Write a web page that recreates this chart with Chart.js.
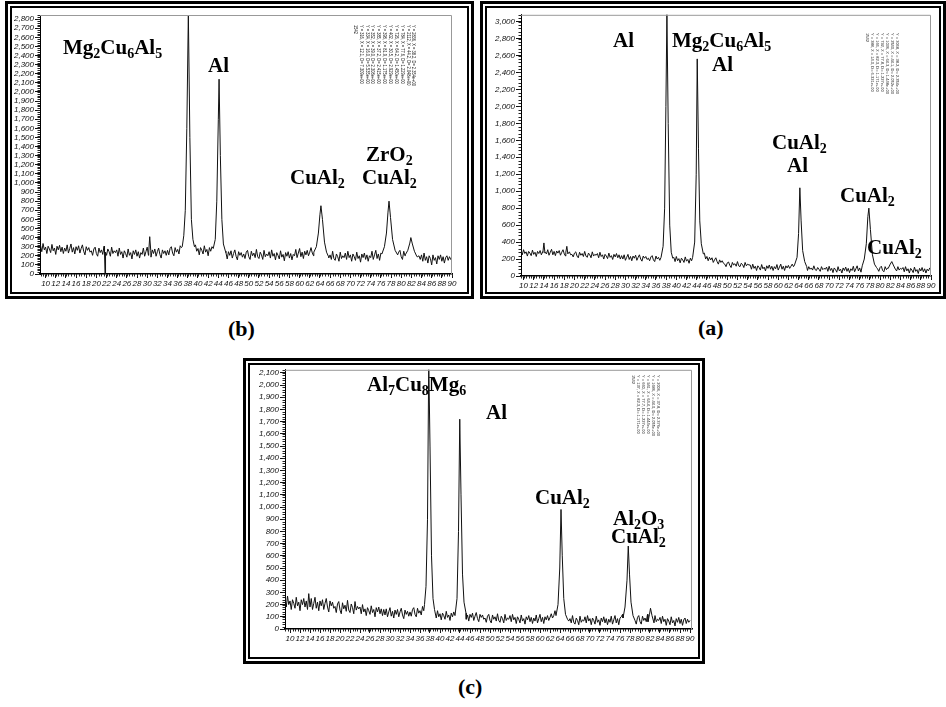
<!DOCTYPE html>
<html>
<head>
<meta charset="utf-8">
<title>XRD patterns (a) (b) (c)</title>
<script src="https://cdn.jsdelivr.net/npm/chart.js@4.4.1/dist/chart.umd.min.js"></script>
<style>
    body { margin: 0; background: #fff; }
    #page { position: relative; width: 946px; height: 707px; overflow: hidden; }
    .frame { position: absolute; box-sizing: border-box; border: 3px solid #000; }
    .frame .inner { position: absolute; left: 2px; top: 2px; right: 2px; bottom: 2px; border: 2px solid #000; }
    canvas { position: absolute; }
    .lbl { position: absolute; font-family: 'Liberation Serif', 'Times New Roman', serif; font-weight: bold;
           font-size: 21px; line-height: 21px; white-space: nowrap; color: #000; }
    .lbl sub { font-size: 14px; vertical-align: -4px; line-height: 0; }
    .cap { position: absolute; font-family: 'Liberation Serif', 'Times New Roman', serif; font-weight: bold;
           font-size: 22px; line-height: 22px; }
    .plist { position: absolute; left: 0; top: 0; transform-origin: 0 0; font-family: 'Liberation Sans', sans-serif;
             font-size: 8px; line-height: 9px; white-space: pre; color: #222; }
</style>
</head>
<body>
<div id="page">
    <div class="frame" style="left:5px;top:1px;width:469px;height:298px"><div class="inner"></div></div>
    <div class="frame" style="left:480px;top:1px;width:466px;height:298px"><div class="inner"></div></div>
    <div class="frame" style="left:243px;top:358px;width:462px;height:306px"><div class="inner"></div></div>

    <canvas id="chart-b" width="455" height="286" style="left:12px;top:9px"></canvas>
    <canvas id="chart-a" width="452" height="286" style="left:488px;top:9px"></canvas>
    <canvas id="chart-c" width="446" height="294" style="left:251px;top:364px"></canvas>

    <!-- panel (b) phase labels -->
    <div class="lbl" style="left:63px;top:37px">Mg<sub>2</sub>Cu<sub>6</sub>Al<sub>5</sub></div>
    <div class="lbl" style="left:208px;top:55px">Al</div>
    <div class="lbl" style="left:290px;top:167px">CuAl<sub>2</sub></div>
    <div class="lbl" style="left:366px;top:144px">ZrO<sub>2</sub></div>
    <div class="lbl" style="left:362px;top:167px">CuAl<sub>2</sub></div>

    <!-- panel (a) phase labels -->
    <div class="lbl" style="left:613px;top:30px">Al</div>
    <div class="lbl" style="left:672px;top:30px">Mg<sub>2</sub>Cu<sub>6</sub>Al<sub>5</sub></div>
    <div class="lbl" style="left:712px;top:54px">Al</div>
    <div class="lbl" style="left:772px;top:132px">CuAl<sub>2</sub></div>
    <div class="lbl" style="left:787px;top:155px">Al</div>
    <div class="lbl" style="left:840px;top:185px">CuAl<sub>2</sub></div>
    <div class="lbl" style="left:867px;top:237px">CuAl<sub>2</sub></div>

    <!-- panel (c) phase labels -->
    <div class="lbl" style="left:367px;top:374px">Al<sub>7</sub>Cu<sub>8</sub>Mg<sub>6</sub></div>
    <div class="lbl" style="left:486px;top:402px">Al</div>
    <div class="lbl" style="left:535px;top:487px">CuAl<sub>2</sub></div>
    <div class="lbl" style="left:613px;top:508px">Al<sub>2</sub>O<sub>3</sub></div>
    <div class="lbl" style="left:611px;top:526px">CuAl<sub>2</sub></div>

    <div class="cap" style="left:228px;top:318px">(b)</div>
    <div class="cap" style="left:698px;top:317px">(a)</div>
    <div class="cap" style="left:458px;top:676px">(c)</div>

    <div class="plist" id="plist-b"></div>
    <div class="plist" id="plist-a"></div>
    <div class="plist" id="plist-c"></div>
</div>

<script>
// --- Shared axis ticks (2-theta, degrees) ---
const xTicks = [10, 12, 14, 16, 18, 20, 22, 24, 26, 28, 30, 32, 34, 36, 38, 40, 42, 44, 46, 48, 50,
                52, 54, 56, 58, 60, 62, 64, 66, 68, 70, 72, 74, 76, 78, 80, 82, 84, 86, 88, 90];
const STEP = 0.25;   // scan step of the background arrays

// --- Panel (b) ---
const yTicksB = [0, 100, 200, 300, 400, 500, 600, 700, 800, 900, 1000, 1100, 1200, 1300, 1400, 1500,
                 1600, 1700, 1800, 1900, 2000, 2100, 2200, 2300, 2400, 2500, 2600, 2700, 2800];
// background counts from 9.0 deg, one row = 5 deg
const baseB = [
    315, 245, 335, 265, 295, 225, 305, 275, 235, 325, 255, 285, 215, 305, 265, 315, 245, 295, 225, 285,
    250, 320, 230, 280, 330, 240, 290, 220, 300, 260, 310, 230, 280, 320, 250, 210, 300, 260, 290, 240,
    255, 205, 275, 295, 225, 195, 285, 235, 265, 215, 305, 225, 205, 275, 245, 195, 295, 225, 255, 235,
    265, 195, 285, 215, 245, 175, 255, 225, 185, 275, 205, 235, 165, 255, 215, 265, 195, 245, 175, 235,
    215, 285, 195, 245, 295, 205, 255, 185, 265, 225, 275, 195, 245, 285, 215, 175, 265, 225, 255, 205,
    260, 210, 280, 300, 230, 200, 290, 240, 270, 220, 310, 290, 330, 360, 380, 420, 400, 380, 360, 340,
    300, 230, 320, 250, 280, 210, 290, 260, 220, 310, 240, 270, 200, 290, 250, 300, 230, 280, 250, 300,
    195, 265, 175, 225, 275, 185, 235, 165, 245, 205, 255, 175, 225, 265, 195, 155, 245, 205, 235, 185,
    220, 170, 240, 260, 190, 160, 250, 200, 230, 180, 270, 190, 170, 240, 210, 160, 260, 190, 220, 200,
    245, 175, 265, 195, 225, 155, 235, 205, 165, 255, 185, 215, 145, 235, 195, 245, 175, 225, 155, 215,
    200, 270, 180, 230, 280, 190, 240, 170, 250, 210, 260, 200, 240, 290, 230, 200, 290, 260, 290, 300,
    200, 150, 170, 190, 170, 140, 230, 180, 210, 160, 250, 170, 150, 220, 190, 140, 240, 170, 200, 180,
    230, 160, 250, 180, 210, 140, 220, 190, 150, 240, 170, 200, 130, 220, 180, 230, 160, 210, 140, 200,
    180, 250, 160, 210, 260, 170, 220, 150, 230, 190, 240, 160, 210, 250, 180, 140, 230, 190, 220, 170,
    220, 170, 240, 260, 190, 160, 250, 200, 230, 180, 270, 190, 170, 240, 210, 160, 260, 190, 200, 160,
    210, 140, 230, 150, 190, 120, 200, 170, 100, 210, 150, 180, 110, 200, 160, 210, 140, 190, 120, 180,
    200, 150, 190, 160, 180
];
const peaksB = [
    [[21.6, 230], [21.7, 0], [21.8, 240]],
    [[30.3, 240], [30.5, 410], [30.7, 260]],
    [[36.9, 300], [37.2, 420], [37.5, 700], [37.8, 1600], [38.1, 2860], [38.4, 1500], [38.7, 600], [39.0, 380], [39.3, 300]],
    [[43.0, 280], [43.4, 380], [43.7, 800], [44.0, 1700], [44.15, 2140], [44.4, 1300], [44.7, 600], [45.0, 330], [45.4, 250]],
    [[62.8, 240], [63.3, 300], [63.7, 450], [64.0, 650], [64.2, 750], [64.5, 600], [64.9, 350], [65.3, 240], [65.7, 190]],
    [[76.2, 220], [76.7, 300], [77.1, 450], [77.4, 680], [77.6, 800], [77.9, 620], [78.3, 380], [78.8, 260], [79.3, 210]],
    [[80.8, 210], [81.3, 260], [81.7, 340], [81.9, 400], [82.2, 330], [82.6, 250], [83.1, 190]]
];
const listB = [
    'Y = 2836, X = 38.2, D= 2.354e+00',
    'Y = 2112, X = 44.2, D= 2.048e+00',
    'Y = 784, X = 77.6, D= 1.229e+00',
    'Y = 726, X = 64.2, D= 1.450e+00',
    'Y = 402, X = 30.5, D= 2.929e+00',
    'Y = 398, X = 81.9, D= 1.175e+00',
    'Y = 385, X = 37.2, D= 2.415e+00',
    'Y = 352, X = 39.0, D= 2.308e+00',
    'Y = 334, X = 16.0, D= 5.535e+00',
    'Y = 316, X = 12.1, D= 7.309e+00',
    '1542'
];

// --- Panel (a) ---
const yTicksA = [0, 200, 400, 600, 800, 1000, 1200, 1400, 1600, 1800, 2000, 2200, 2400, 2600, 2800, 3000];
// background counts from 9.5 deg, one row = 5 deg
const baseA = [
    300, 250, 310, 265, 285, 235, 290, 270, 240, 305, 255, 280, 230, 290, 265, 300, 250, 285, 235, 280,
    260, 310, 245, 280, 315, 250, 290, 240, 295, 270, 300, 245, 280, 310, 260, 235, 295, 265, 285, 250,
    255, 225, 270, 285, 235, 215, 280, 245, 265, 230, 290, 235, 220, 270, 250, 215, 285, 235, 255, 245,
    265, 215, 280, 230, 250, 200, 255, 235, 205, 270, 220, 240, 195, 255, 225, 265, 215, 250, 200, 240,
    200, 250, 185, 220, 255, 195, 230, 180, 235, 210, 245, 185, 220, 250, 200, 175, 235, 210, 230, 195,
    210, 180, 225, 240, 190, 170, 235, 200, 220, 185, 250, 195, 180, 225, 205, 170, 245, 190, 210, 200,
    220, 170, 230, 180, 205, 155, 210, 190, 160, 225, 175, 195, 150, 210, 180, 230, 200, 240, 220, 250,
    280, 300, 240, 250, 270, 200, 230, 180, 220, 190, 215, 160, 190, 215, 170, 140, 190, 160, 180, 150,
    140, 110, 155, 165, 125, 100, 160, 130, 145, 115, 170, 120, 110, 150, 135, 100, 160, 120, 140, 130,
    130, 80, 140, 90, 115, 65, 120, 100, 70, 135, 85, 105, 60, 120, 90, 130, 80, 115, 65, 110,
    85, 135, 70, 105, 140, 80, 115, 65, 120, 95, 125, 90, 115, 140, 110, 130, 170, 200, 300, 500,
    500, 300, 160, 120, 100, 65, 110, 80, 95, 70, 120, 75, 65, 100, 80, 55, 110, 75, 90, 80,
    105, 55, 115, 65, 90, 40, 95, 75, 45, 110, 60, 80, 35, 95, 65, 105, 55, 90, 40, 85,
    65, 115, 50, 85, 120, 60, 95, 45, 100, 110, 130, 150, 200, 300, 500, 700, 500, 300, 150, 110,
    85, 55, 100, 115, 65, 50, 110, 75, 95, 100, 130, 160, 150, 120, 90, 60, 110, 70, 90, 80,
    100, 50, 110, 60, 85, 35, 90, 70, 40, 105, 55, 75, 30, 90, 60, 100, 50, 85, 35, 80,
    60, 95, 65
];
const peaksA = [
    [[13.8, 280], [14.0, 390], [14.2, 270]],
    [[18.3, 280], [18.5, 350], [18.7, 260]],
    [[37.0, 220], [37.4, 350], [37.7, 800], [37.95, 2000], [38.15, 3100], [38.4, 1800], [38.7, 600], [39.0, 280], [39.3, 210]],
    [[43.2, 220], [43.6, 400], [43.9, 1200], [44.1, 2560], [44.35, 1500], [44.6, 650], [44.9, 380], [45.3, 260]],
    [[63.2, 130], [63.7, 220], [64.0, 500], [64.25, 1040], [64.5, 650], [64.8, 300], [65.2, 170], [65.6, 110]],
    [[76.5, 120], [76.9, 200], [77.3, 380], [77.6, 700], [77.8, 800], [78.1, 550], [78.5, 250], [78.9, 140], [79.3, 100]],
    [[81.6, 90], [82.0, 140], [82.3, 170], [82.6, 130], [83.0, 80]]
];
const listA = [
    'Y = 3068, X = 38.2, D= 2.354e+00',
    'Y = 2540, X = 44.1, D= 2.052e+00',
    'Y = 1036, X = 64.3, D= 1.448e+00',
    'Y = 792, X = 77.8, D= 1.227e+00',
    'Y = 166, X = 82.3, D= 1.171e+00',
    'Y = 388, X = 14.0, D= 6.321e+00',
    '1542'
];

// --- Panel (c) ---
const yTicksC = [0, 100, 200, 300, 400, 500, 600, 700, 800, 900, 1000, 1100, 1200, 1300, 1400, 1500,
                 1600, 1700, 1800, 1900, 2000, 2100];
// background counts from 9.0 deg, one row = 5 deg
const baseC = [
    250, 180, 270, 200, 230, 160, 240, 210, 170, 260, 190, 220, 150, 240, 200, 250, 180, 230, 160, 290,
    180, 250, 160, 210, 260, 170, 220, 150, 230, 190, 240, 160, 210, 250, 180, 140, 230, 190, 220, 170,
    185, 135, 205, 225, 155, 125, 215, 165, 195, 145, 235, 155, 135, 205, 175, 125, 225, 155, 185, 165,
    180, 125, 200, 140, 165, 110, 175, 150, 120, 190, 135, 160, 100, 175, 140, 180, 125, 165, 110, 160,
    115, 165, 100, 140, 175, 105, 145, 90, 155, 120, 160, 100, 140, 170, 115, 85, 155, 120, 145, 105,
    140, 105, 160, 175, 120, 100, 170, 130, 150, 115, 185, 150, 170, 200, 180, 220, 300, 250, 200, 170,
    140, 90, 150, 100, 125, 75, 130, 110, 80, 145, 95, 115, 70, 130, 100, 140, 90, 125, 100, 130,
    90, 135, 75, 105, 140, 80, 115, 65, 120, 95, 130, 70, 105, 135, 85, 60, 120, 95, 115, 80,
    90, 55, 105, 120, 70, 50, 115, 80, 100, 65, 125, 70, 55, 105, 85, 50, 120, 70, 90, 80,
    110, 60, 120, 75, 95, 45, 100, 80, 50, 115, 65, 85, 40, 100, 75, 110, 60, 95, 45, 90,
    65, 115, 50, 85, 120, 60, 95, 45, 100, 75, 110, 70, 95, 125, 90, 110, 150, 200, 300, 500,
    500, 300, 160, 110, 90, 60, 100, 65, 85, 50, 110, 55, 40, 90, 70, 35, 105, 55, 75, 65,
    100, 50, 110, 65, 85, 35, 90, 70, 40, 105, 55, 75, 30, 90, 60, 100, 50, 85, 35, 80,
    55, 105, 40, 75, 110, 50, 85, 35, 90, 100, 120, 150, 200, 300, 500, 600, 400, 250, 150, 100,
    75, 40, 95, 110, 60, 40, 105, 70, 90, 60, 120, 140, 170, 120, 80, 35, 110, 60, 80, 70,
    95, 45, 105, 60, 80, 30, 85, 65, 35, 100, 50, 70, 25, 85, 55, 95, 45, 80, 30, 75,
    90, 45, 80, 55, 70
];
const peaksC = [
    [[36.9, 200], [37.2, 350], [37.5, 900], [37.75, 2200], [38.0, 1500], [38.3, 600], [38.6, 250], [38.9, 160]],
    [[43.0, 110], [43.4, 250], [43.7, 800], [43.95, 1720], [44.2, 1100], [44.5, 450], [44.8, 220], [45.2, 130]],
    [[63.2, 110], [63.6, 200], [63.95, 500], [64.2, 980], [64.45, 600], [64.75, 250], [65.1, 120], [65.5, 80]],
    [[76.6, 90], [77.0, 180], [77.4, 400], [77.65, 680], [77.9, 450], [78.2, 220], [78.6, 110], [79.0, 70]],
    [[81.6, 60], [81.9, 120], [82.1, 170], [82.4, 110], [82.8, 50]]
];
const listC = [
    'Y = 2006, X = 37.8, D= 2.376e+00',
    'Y = 1686, X = 44.0, D= 2.055e+00',
    'Y = 941, X = 64.4, D= 1.444e+00',
    'Y = 660, X = 77.7, D= 1.227e+00',
    'Y = 137, X = 82.3, D= 1.171e+00',
    '1542'
];

// merge background with peak profiles, background is dropped under each peak
function buildPoints(start, base, peaks) {
    const pts = [];
    base.forEach((y, i) => {
        const x = start + i * STEP;
        const covered = peaks.some(p => x >= p[0][0] && x <= p[p.length - 1][0]);
        if (!covered) pts.push({ x, y });
    });
    peaks.forEach(p => p.forEach(([x, y]) => pts.push({ x, y })));
    return pts.sort((a, b) => a.x - b.x);
}

// minor tick marks + light grey box on top / right
const minorTicks = {
    id: 'minorTicks',
    afterDraw(chart, args, opts) {
        const { ctx, chartArea: a, scales: { x, y } } = chart;
        ctx.save();
        ctx.strokeStyle = '#999';
        ctx.lineWidth = 1;
        ctx.beginPath();
        ctx.moveTo(a.left, a.top + 0.5);
        ctx.lineTo(a.right - 0.5, a.top + 0.5);
        ctx.lineTo(a.right - 0.5, a.bottom);
        ctx.stroke();

        ctx.strokeStyle = '#222';
        ctx.beginPath();
        for (let v = Math.ceil(x.min / opts.x) * opts.x; v <= x.max + 1e-6; v += opts.x) {
            const px = Math.round(x.getPixelForValue(v)) + 0.5;
            ctx.moveTo(px, a.bottom);
            ctx.lineTo(px, a.bottom + 2.5);
        }
        for (let v = 0; v <= y.max + 1e-6; v += opts.y) {
            const py = Math.round(y.getPixelForValue(v)) + 0.5;
            ctx.moveTo(a.left, py);
            ctx.lineTo(a.left - 2.5, py);
        }
        ctx.stroke();
        ctx.restore();
    }
};

const tickFont = { family: "'Liberation Sans', Arial, sans-serif", size: 8, style: 'italic' };

function makeChart(id, points, o) {
    new Chart(document.getElementById(id), {
        type: 'line',
        data: {
            datasets: [{
                data: points,
                borderColor: '#111',
                borderWidth: 1,
                pointRadius: 0,
                tension: 0
            }]
        },
        options: {
            responsive: false,
            animation: false,
            events: [],
            layout: { padding: { top: o.padTop, right: o.padRight, left: 0, bottom: 0 } },
            plugins: {
                legend: { display: false },
                tooltip: { enabled: false },
                minorTicks: { x: 0.5, y: o.yMinor }
            },
            scales: {
                x: {
                    type: 'linear',
                    min: o.xMin,
                    max: o.xMax,
                    afterBuildTicks: s => { s.ticks = xTicks.map(v => ({ value: v })); },
                    afterFit: s => { s.height = o.xHeight; },
                    ticks: {
                        autoSkip: false, maxRotation: 0, minRotation: 0, padding: 1,
                        color: '#111', font: tickFont,
                        callback: v => String(v)
                    },
                    grid: { drawOnChartArea: false, color: '#111', tickLength: 4 },
                    border: { display: true, color: '#000', width: 1.5 }
                },
                y: {
                    min: 0,
                    max: o.yMax,
                    afterBuildTicks: s => { s.ticks = o.yTicks.map(v => ({ value: v })); },
                    afterFit: s => { s.width = o.yWidth; },
                    ticks: {
                        autoSkip: false, padding: 1, color: '#111', font: tickFont,
                        callback: v => v.toLocaleString('en-US')
                    },
                    grid: { drawOnChartArea: false, color: '#111', tickLength: 5 },
                    border: { display: true, color: '#000', width: 1 }
                }
            }
        },
        plugins: [minorTicks]
    });
}

// rotated peak-list text blocks
function placeList(id, lines, right, top, sx, sy) {
    const el = document.getElementById(id);
    el.textContent = lines.join('\n');
    el.style.transform = `translate(${right}px, ${top}px) rotate(90deg) scale(${sx}, ${sy})`;
}

document.addEventListener('DOMContentLoaded', () => {
    makeChart('chart-b', buildPoints(9.0, baseB, peaksB), {
        xMin: 8.9, xMax: 90, yMax: 2845, yTicks: yTicksB, yMinor: 20,
        yWidth: 28, xHeight: 21, padTop: 6, padRight: 15
    });
    makeChart('chart-a', buildPoints(9.5, baseA, peaksA), {
        xMin: 9.5, xMax: 90, yMax: 3080, yTicks: yTicksA, yMinor: 40,
        yWidth: 33, xHeight: 19, padTop: 5, padRight: 9
    });
    makeChart('chart-c', buildPoints(9.0, baseC, peaksC), {
        xMin: 9.0, xMax: 90.4, yMax: 2125, yTicks: yTicksC, yMinor: 20,
        yWidth: 34, xHeight: 29, padTop: 5, padRight: 5
    });

    placeList('plist-b', listB, 417, 25, 0.5, 0.65);
    placeList('plist-a', listA, 900, 33, 0.5, 0.55);
    placeList('plist-c', listC, 661, 375, 0.5, 0.55);
});
</script>
</body>
</html>
